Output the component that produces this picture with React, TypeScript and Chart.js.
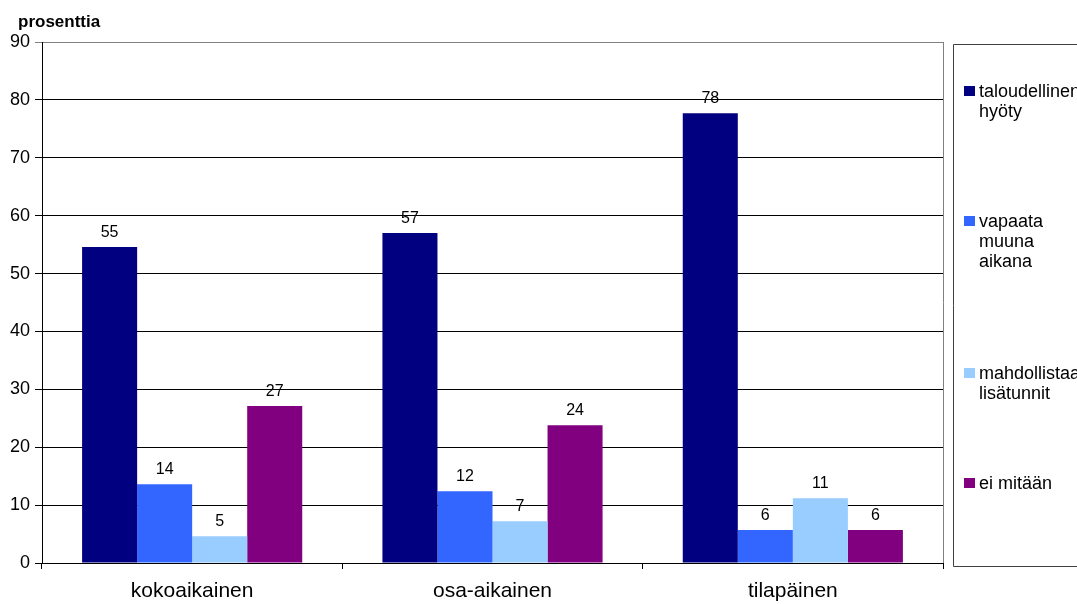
import React, { useEffect, useRef } from "react";
import { Chart, registerables } from "chart.js";

Chart.register(...registerables);

const categories = ["kokoaikainen", "osa-aikainen", "tilapäinen"];
const seriesNames = ["taloudellinen hyöty", "vapaata muuna aikana", "mahdollistaa lisätunnit", "ei mitään"];
const legendLines = [["taloudellinen", "hyöty"], ["vapaata", "muuna", "aikana"], ["mahdollistaa", "lisätunnit"], ["ei mitään"]];
const taloudellinen = [54.6, 57.0, 77.7];
const vapaata = [13.6, 12.4, 5.7];
const mahdollistaa = [4.6, 7.2, 11.2];
const eiMitaan = [27.1, 23.8, 5.7];
const seriesColors = ["#000080", "#3366FF", "#99CCFF", "#800080"];
const yTicks = [0, 10, 20, 30, 40, 50, 60, 70, 80, 90];
const yTitle = "prosenttia";

const FONT = "'Liberation Sans', Arial, sans-serif";

export default function App() {
  const ref = useRef<HTMLCanvasElement | null>(null);
  useEffect(() => {
    document.body.style.margin = "0";
    const canvas = ref.current!;
    const series = [taloudellinen, vapaata, mahdollistaa, eiMitaan];
    const extras = {
      id: "extras",
      afterDraw(chart: any) {
        const ctx = chart.ctx;
        const a = chart.chartArea;
        ctx.save();
        // right border of plot
        ctx.strokeStyle = "#808080";
        ctx.lineWidth = 1;
        ctx.beginPath();
        ctx.moveTo(Math.round(a.right) + 0.5, a.top);
        ctx.lineTo(Math.round(a.right) + 0.5, a.bottom);
        ctx.stroke();
        // y title
        ctx.fillStyle = "#000";
        ctx.font = `bold 17px ${FONT}`;
        ctx.textAlign = "left";
        ctx.textBaseline = "alphabetic";
        ctx.fillText(yTitle, 18, 27);
        // data labels
        ctx.font = `16px ${FONT}`;
        ctx.textAlign = "center";
        ctx.textBaseline = "alphabetic";
        chart.data.datasets.forEach((ds: any, i: number) => {
          const meta = chart.getDatasetMeta(i);
          meta.data.forEach((bar: any, j: number) => {
            ctx.fillText(String(Math.round(ds.data[j])), bar.x, bar.y - 10);
          });
        });
        // legend box
        const lx = 953.5;
        const ly = 44.5;
        const lb = 566.5;
        ctx.strokeStyle = "#404040";
        ctx.beginPath();
        ctx.moveTo(1100, ly);
        ctx.lineTo(lx, ly);
        ctx.lineTo(lx, lb);
        ctx.lineTo(1100, lb);
        ctx.stroke();
        const starts = [91, 221, 373, 483];
        ctx.font = `18px ${FONT}`;
        ctx.textAlign = "left";
        ctx.textBaseline = "middle";
        legendLines.forEach((lines, i) => {
          const y0 = starts[i];
          ctx.fillStyle = seriesColors[i];
          ctx.fillRect(964, y0 - 5, 11, 10);
          ctx.fillStyle = "#000";
          lines.forEach((t, k) => ctx.fillText(t, 979, y0 + 1 + k * 20));
        });
        ctx.restore();
      },
    };
    const chart = new Chart(canvas, {
      type: "bar",
      data: {
        labels: categories,
        datasets: series.map((d, i) => ({
          label: seriesNames[i],
          data: d,
          backgroundColor: seriesColors[i],
          borderWidth: 0,
          categoryPercentage: 0.733,
          barPercentage: 1,
        })),
      },
      options: {
        responsive: false,
        animation: false,
        devicePixelRatio: 1,
        layout: { padding: { top: 42, right: 134, bottom: 0, left: 0 } },
        plugins: { legend: { display: false }, tooltip: { enabled: false }, title: { display: false } },
        scales: {
          x: {
            afterFit: (s: any) => { s.height = 41; },
            grid: { offset: true, drawOnChartArea: false, drawTicks: true, tickLength: 6, color: "#000" },
            border: { color: "#000" },
            ticks: { color: "#000", font: { family: FONT, size: 21 }, padding: 10 },
          },
          y: {
            min: 0,
            max: 90,
            afterFit: (s: any) => { s.width = 42; },
            afterBuildTicks: (s: any) => { s.ticks = yTicks.map((v) => ({ value: v })); },
            grid: {
              color: (c: any) => (c.tick && c.tick.value === 90 ? "#808080" : "#000"),
              tickLength: 7,
              drawTicks: true,
            },
            border: { color: "#000" },
            ticks: { color: "#000", font: { family: FONT, size: 18 }, padding: 5 },
          },
        },
      },
      plugins: [extras],
    });
    return () => chart.destroy();
  }, []);
  return (
    <div style={{ position: "absolute", left: 0, top: 0, width: 1077, height: 604, background: "#fff" }}>
      <canvas ref={ref} width={1077} height={604} style={{ width: 1077, height: 604 }} />
    </div>
  );
}
